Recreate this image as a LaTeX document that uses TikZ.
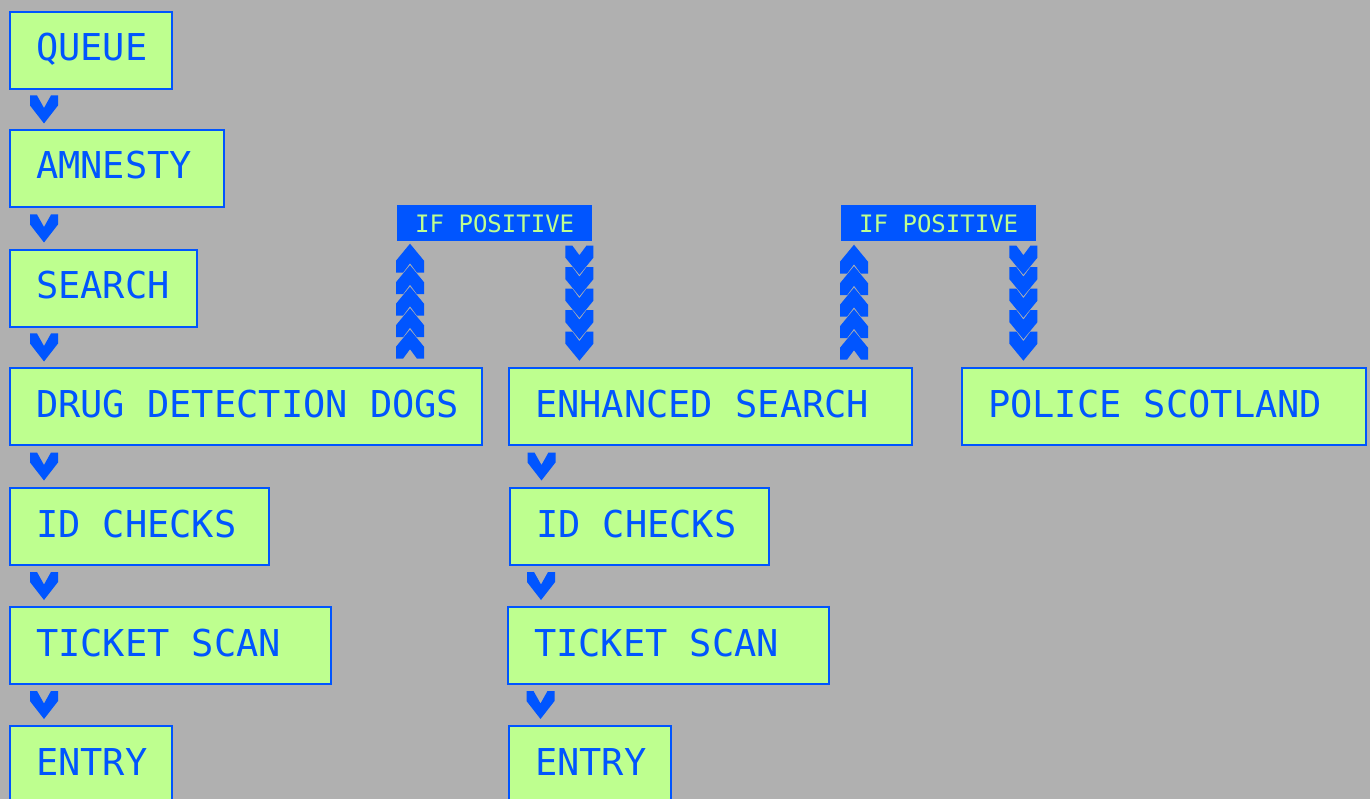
\documentclass[tikz,border=0pt]{standalone}
\usepackage{fontspec}
\newfontfamily\lcdfont{DejaVu Sans Mono}
\usetikzlibrary{calc}
\definecolor{bg}{RGB}{176,176,176}
\definecolor{lcd}{RGB}{190,255,143}
\definecolor{blu}{RGB}{0,85,255}
\newcommand\bxt[2]{\makebox[\dimexpr#1pt-52pt\relax][l]{#2}}
\tikzset{
  box/.style={draw=blu, line width=2pt, fill=lcd, anchor=north west,
    minimum height=77pt, inner xsep=26pt, inner ysep=0pt, text=blu,
    font=\lcdfont\fontsize{37}{37}\selectfont, text height=27pt, text depth=6pt},
  poslabel/.style={fill=blu, anchor=north west, minimum width=195pt, minimum height=36pt,
    inner sep=0pt, text=lcd, font=\lcdfont\fontsize{24}{24}\selectfont,
    text height=18pt, text depth=0pt},
  chev/.pic={\fill[blu] (-14,-14)--(-7,-14)--(0,-1.5)--(7,-14)--(14,-14)--(14,-4)--(0,14)--(-14,-4)--cycle;},
  chevd/.pic={\fill[blu] (-14,-14.5)--(-7,-14.5)--(0,-5)--(7,-14.5)--(14,-14.5)--(14,-2.5)--(0,14.5)--(-14,-2.5)--cycle;},
  chevu/.pic={\fill[blu] (-14,14.5)--(-7,14.5)--(0,5)--(7,14.5)--(14,14.5)--(14,2.5)--(0,-14.5)--(-14,2.5)--cycle;},
  stackdown/.pic={\foreach \i in {0,...,4}{\pic at (0,-43+21.5*\i) {chevd};}},
  stackup/.pic={\foreach \i in {0,...,4}{\pic at (0,-43+21.5*\i) {chevu};}},
}
\begin{document}
\begin{tikzpicture}[x=1pt,y=-1pt]
\fill[bg] (0,0) rectangle (1370,799);
\useasboundingbox (0,0) rectangle (1370,799);
% left column
\node[box] (queue)   at (9,11)  {\bxt{162}{QUEUE}};
\node[box] (amnesty) at (9,129) {\bxt{214}{AMNESTY}};
\node[box] (search)  at (9,249) {\bxt{187}{SEARCH}};
\node[box] (dogs)    at (9,367) {\bxt{472}{DRUG DETECTION DOGS}};
\node[box] (id1)     at (9,487) {\bxt{259}{ID CHECKS}};
\node[box] (ticket1) at (9,606) {\bxt{321}{TICKET SCAN}};
\node[box] (entry1)  at (9,725) {\bxt{162}{ENTRY}};
% middle column
\node[box] (enhanced) at (508,367) {\bxt{403}{ENHANCED SEARCH}};
\node[box] (id2)      at (509,487) {\bxt{259}{ID CHECKS}};
\node[box] (ticket2)  at (507,606) {\bxt{321}{TICKET SCAN}};
\node[box] (entry2)   at (508,725) {\bxt{162}{ENTRY}};
% right
\node[box] (police) at (961,367) {\bxt{404}{POLICE SCOTLAND}};
% labels
\node[poslabel] (pos1) at (397,205) {IF POSITIVE};
\node[poslabel] (pos2) at (841,205) {IF POSITIVE};
% left column chevrons
\foreach \a/\b in {queue/amnesty, amnesty/search, search/dogs, dogs/id1, id1/ticket1, ticket1/entry1}
  \path ($(\a.south west)!.5!(\b.north west)+(35,0)$) pic {chev};
% middle column chevrons
\foreach \a/\b in {enhanced/id2, id2/ticket2, ticket2/entry2}
  \path ($(\a.south west)!.5!(\b.north west)+(33,0)$) pic {chev};
% if-positive stacks
\path ($(pos1.south west)!.5!(pos1.south west |- dogs.north)+(13,-3)$) pic {stackup};
\path ($(pos1.south east)!.5!(pos1.south east |- enhanced.north)+(-13,-1)$) pic {stackdown};
\path ($(pos2.south west)!.5!(pos2.south west |- enhanced.north)+(13,-2)$) pic {stackup};
\path ($(pos2.south east)!.5!(pos2.south east |- police.north)+(-13,-1)$) pic {stackdown};
\end{tikzpicture}
\end{document}
